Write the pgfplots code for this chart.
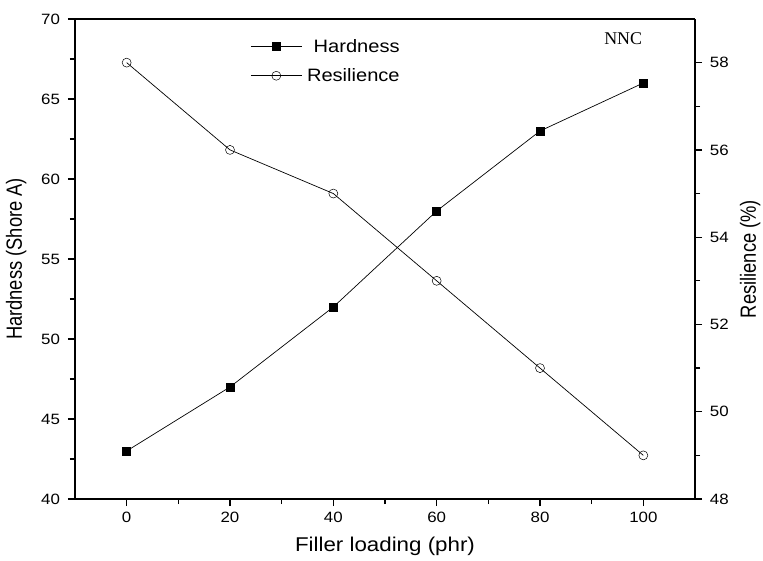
\documentclass[border=0pt]{standalone}
\usepackage{fontspec}
\setmainfont{Liberation Sans}
\newfontfamily\timesfont{Liberation Serif}
\usepackage{graphicx}
\usepackage{pgfplots}
\pgfplotsset{compat=1.18}

\pgfplotsset{
  common/.style={
    width=620bp, height=480bp, scale only axis,
    xmin=-10, xmax=110,
    tick align=outside,
    major tick length=7bp, minor tick length=5bp,
    tick style={line width=1.2pt, black},
    axis line style={line width=1.4pt},
    /pgf/number format/assume math mode=true,
    tick label style={font=\fontsize{15}{17}\selectfont, xscale=1.13},
    xticklabel shift=3bp,
    yticklabel shift=4bp,
  }
}

\begin{document}
\begin{tikzpicture}
% Hardness on the left axis
\begin{axis}[common, name=ax,
  ymin=40, ymax=70,
  axis y line*=left, axis x line*=bottom,
  xtick={0,20,...,100}, minor x tick num=1,
  ytick={40,45,...,70}, minor y tick num=1,
  xlabel={Filler loading (phr)},
  xlabel style={font=\fontsize{20}{24}\selectfont, xscale=1.12,
    at={(axis description cs:0.5,-0.098)}, anchor=center},
  ylabel={\scalebox{1}[1.2]{Hardness (Shore A)}},
  ylabel style={font=\fontsize{18.4}{22}\selectfont,
    at={(axis description cs:-0.095,0.5)}, anchor=center},
  legend style={at={(axis description cs:0.532,0.967)}, anchor=north east,
    draw=none, fill=none, font=\fontsize{18}{22}\selectfont,
    row sep=11bp},
  legend cell align=right,
  legend image code/.code={
    \draw[mark repeat=2, mark phase=2, #1] plot coordinates {(0cm,0cm) (0.9cm,0cm) (1.8cm,0cm)};
    \path (1.9cm,0cm);
  },
]
\addplot[black, line width=0.7pt, mark=square*, mark size=4bp]
  coordinates {(0,43) (20,47) (40,52) (60,58) (80,63) (100,66)};
\addlegendentry{\scalebox{1.12}[1]{Hardness}}
\addlegendimage{black, line width=0.7pt, mark=o, mark size=4.5bp, mark options={fill=white, line width=0.5pt}}
\addlegendentry{\scalebox{1.12}[1]{Resilience}}
\node[font=\timesfont\fontsize{18}{20}\selectfont, anchor=west] at (axis description cs:0.848,0.960) {NNC};
\end{axis}
% Resilience on the right axis
\begin{axis}[common,
  ymin=48, ymax=59,
  axis y line*=right, axis x line*=top,
  xtick=\empty,
  ytick={48,50,...,58}, minor y tick num=1,
  ylabel={\scalebox{1}[1.2]{Resilience (\%)}},
  ylabel style={font=\fontsize{18.4}{22}\selectfont,
    at={(axis description cs:1.089,0.5)}, anchor=center},
]
\addplot[black, line width=0.7pt, mark=o, mark size=4.5bp, mark options={fill=white, line width=0.5pt}]
  coordinates {(0,58) (20,56) (40,55) (60,53) (80,51) (100,49)};
\end{axis}
% page frame around the plot area
\pgfresetboundingbox
\path ([shift={(-75bp,-62bp)}]ax.south west) rectangle ([shift={(68bp,19bp)}]ax.north east);
\end{tikzpicture}
\end{document}
